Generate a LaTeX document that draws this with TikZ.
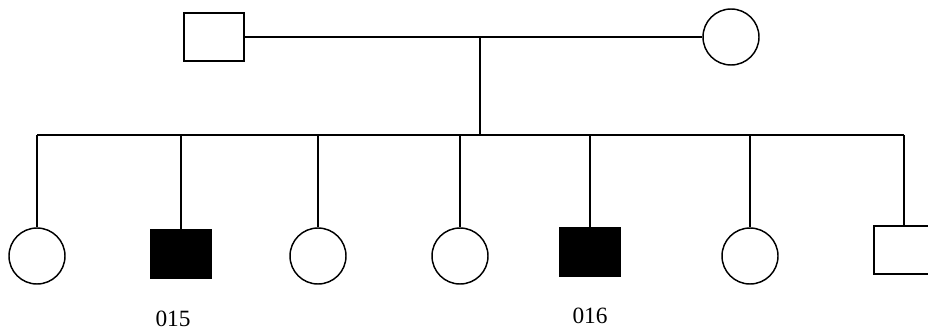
\documentclass[tikz,border=0pt]{standalone}
\usepackage{fontspec}
\setmainfont{Liberation Serif}
\begin{document}
\begin{tikzpicture}[x=0.75pt, y=-0.75pt, line width=1.1pt,
		male/.style={shape=rectangle, draw, minimum width=45pt, minimum height=36pt},
		female/.style={shape=circle, draw, minimum size=42pt},
		affected/.style={fill=black},
		idlabel/.style={font=\fontsize{17.5}{20}\selectfont, inner sep=0pt}]
	\useasboundingbox (0,0) rectangle (928,332);
	% parents
	\node[male] (father) at (214,37) {};
	\node[female] (mother) at (731,37) {};
	\coordinate (mid) at (480,37);
	\coordinate (sib) at (480,135);
	\draw (father) -- (mother);
	\draw (mid) -- (sib);
	% children
	\node[female] (c1) at (37,256) {};
	\node[male, affected] (c2) at (181,254) {};
	\node[female] (c3) at (318,256) {};
	\node[female] (c4) at (460,256) {};
	\node[male, affected] (c5) at (590,252) {};
	\node[female] (c6) at (750,256) {};
	\node[male] (c7) at (904,250) {};
	\draw (c1.north |- sib) -- (c7.north |- sib);
	\foreach \c in {c1,c2,c3,c4,c5,c6,c7}
		\draw (\c.north |- sib) -- (\c.north);
	% labels
	\node[idlabel] (id15) at (173,319) {015};
	\node[idlabel] (id16) at (590,316) {016};
\end{tikzpicture}
\end{document}
